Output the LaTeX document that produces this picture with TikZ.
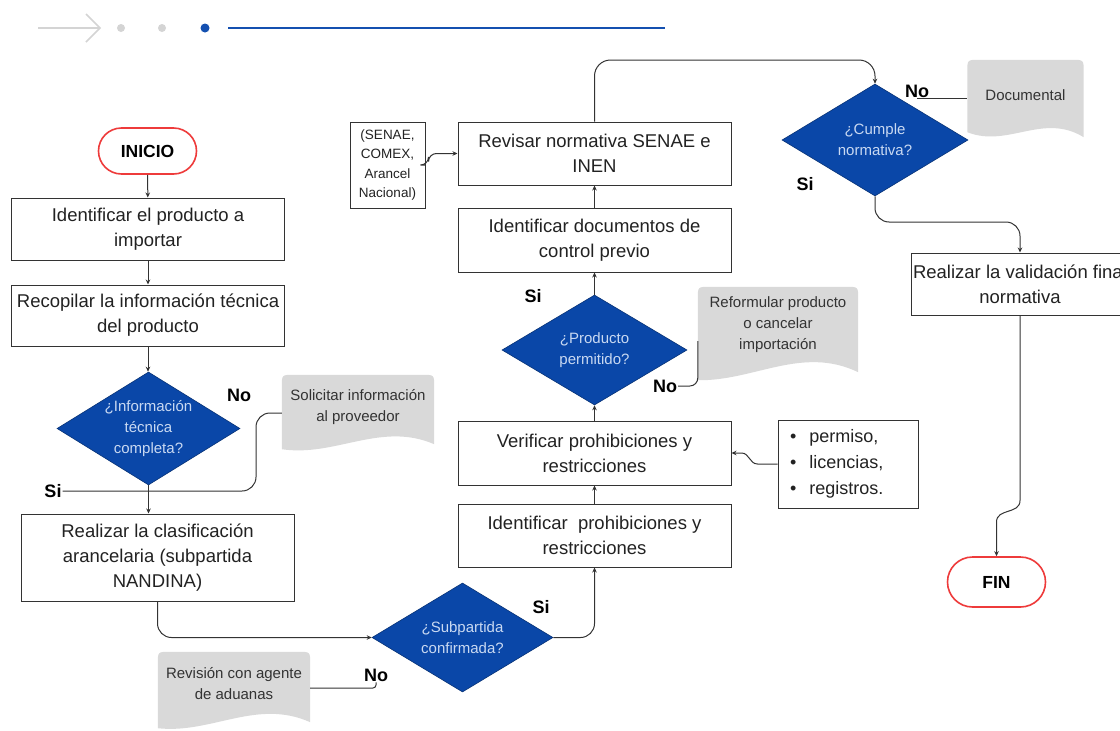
\documentclass[tikz,border=0pt]{standalone}
\usepackage{fontspec}
\setmainfont{Liberation Sans}
\usetikzlibrary{shapes.geometric,arrows.meta,calc,backgrounds}
\definecolor{dblue}{HTML}{0A47A8}
\definecolor{dtxt}{HTML}{C9D9F2}
\definecolor{redb}{HTML}{EE3B3B}
\definecolor{docg}{HTML}{D9D9D9}
\definecolor{lin}{HTML}{333333}
\definecolor{txt}{HTML}{222222}
\definecolor{hgray}{HTML}{D4D4D4}
\definecolor{hblue}{HTML}{1450B0}
\newcommand\docshp[3]{%
  \fill[docg] ($(#1.south west)+(0,#2)$) -- ($(#1.north west)+(0,12)$)
    .. controls (#1.north west) .. ($(#1.north west)+(12,0)$)
    -- ($(#1.north east)+(-12,0)$)
    .. controls (#1.north east) .. ($(#1.north east)+(0,12)$)
    -- ($(#1.south east)+(0,#3)$)
    .. controls ($(#1.south east)!0.35!(#1.south west)+(0,-18)$) and ($(#1.south west)!0.35!(#1.south east)+(0,18)$) .. ($(#1.south west)+(0,#2)$) -- cycle;}
\tikzset{
  box/.style={draw=lin, line width=1pt, fill=white, minimum width=273pt, minimum height=63pt, align=center, inner sep=0pt, text=txt, font=\fontsize{18.5}{25}\selectfont},
  dia/.style={diamond, aspect=1.6, fill=dblue, draw=dblue!70!black, line width=0.6pt, text=dtxt, align=center, inner sep=0pt, font=\fontsize{15}{21}\selectfont},
  term/.style={draw=redb, line width=1.6pt, rounded corners=23pt, minimum width=98pt, minimum height=46pt, fill=white, font=\bfseries\fontsize{17.5}{20}\selectfont},
  side/.style={draw=lin, line width=1pt, minimum width=75pt, minimum height=86pt, align=center, inner sep=0pt, text=txt, font=\fontsize{13.5}{19.5}\selectfont},
  doc/.style={align=center, inner sep=0pt, text=lin, font=\fontsize{15}{21}\selectfont},
  lst/.style={draw=lin, line width=1pt, minimum width=140pt, minimum height=88pt, text width=116pt, inner xsep=12pt, align=left, text=txt, font=\fontsize{18}{26}\selectfont},
  lbl/.style={font=\bfseries\fontsize{18}{20}\selectfont, text=black, inner sep=1pt},
  arr/.style={draw=lin, line width=1pt, -{Stealth[length=5pt,width=4.5pt]}},
  ln/.style={draw=lin, line width=1pt}
}
\begin{document}
\begin{tikzpicture}[x=1pt,y=-1pt]
\useasboundingbox (0,0) rectangle (1120,731);
% header
\draw[hgray, line width=1.5pt] (38,28) -- (100,28);
\draw[hgray, line width=1.5pt] (86,14) -- (100,28) -- (86,42);
\fill[hgray] (121,28) circle (4pt);
\fill[hgray] (162,28) circle (4pt);
\fill[hblue] (205,28) circle (4.5pt);
\draw[hblue, line width=2.5pt] (228,28) -- (665,28);
% nodes
\node[term] (ini) at (147.5,151) {INICIO};
\node[box, minimum height=62pt] (b1) at (148,229) {Identificar el producto a\\importar};
\node[box, minimum height=61pt] (b2) at (148,315.5) {Recopilar la información técnica\\del producto};
\node[dia, minimum width=183pt, minimum height=113pt] (d1) at (148.5,428.5) {¿Información\\técnica\\completa?};
\node[box, minimum height=87pt] (b3) at (157.5,557.5) {Realizar la clasificación\\arancelaria (subpartida\\NANDINA)};
\node[dia, minimum width=181pt, minimum height=109pt] (d2) at (462.5,637.5) {¿Subpartida\\confirmada?};
\node[box] (b4) at (594.5,535.5) {Identificar\ \ prohibiciones y\\restricciones};
\node[box, minimum height=64pt] (b5) at (594.5,453) {Verificar prohibiciones y\\restricciones};
\node[dia, minimum width=185pt, minimum height=110pt] (d3) at (594.5,350) {¿Producto\\permitido?};
\node[box, minimum height=64pt] (b6) at (594.5,240) {Identificar documentos de\\control previo};
\node[box] (b7) at (594.5,153.5) {Revisar normativa SENAE e\\INEN};
\node[side] (sd) at (387.5,165) {(SENAE,\\COMEX,\\Arancel\\Nacional)};
\node[dia, minimum width=186pt, minimum height=112pt] (d4) at (875,140) {¿Cumple\\normativa?};
\node[box, minimum width=218pt, minimum height=62pt] (b8) at (1020,284) {Realizar la validación final\\normativa};
\node[term, minimum height=50pt, rounded corners=25pt] (fin) at (996.5,582) {FIN};
\node[lst] (ls) at (848,464) {\textbullet\hspace{13pt}permiso,\\\textbullet\hspace{13pt}licencias,\\\textbullet\hspace{13pt}registros.};
% documents
\node[doc, minimum width=152pt, minimum height=64pt] (sol) at (358,407) {Solicitar información\\al proveedor};
\node[doc, minimum width=160pt, minimum height=76pt] (ref) at (778,325) {Reformular producto\\o cancelar\\importación};
\node[doc, minimum width=152pt, minimum height=64pt] (rev) at (234,684) {Revisión con agente\\de aduanas};
\node[doc, minimum width=116pt, minimum height=70pt] (dcm) at (1025.5,95) {Documental};
\begin{pgfonlayer}{background}
\fill[white] (0,0) rectangle (1120,731);
\docshp{sol}{10}{5}
\docshp{ref}{17}{9}
\docshp{rev}{12}{6}
\docshp{dcm}{2}{7}
\end{pgfonlayer}
% labels
\node[lbl] (no1) at (239,395) {No};
\node[lbl] (si1) at (53,491) {Si};
\node[lbl] (si2) at (541,607) {Si};
\node[lbl] (no2) at (376,675) {No};
\node[lbl] (si3) at (533,296) {Si};
\node[lbl] (no3) at (665,386) {No};
\node[lbl] (no4) at (917,91) {No};
\node[lbl] (si4) at (805,184) {Si};
% connectors
\draw[arr] (ini) -- (b1);
\draw[arr] (b1) -- (b2);
\draw[arr] (b2.south) -- (b2.south |- d1.north);
\draw[arr] (d1.south) -- (d1.south |- b3.north);
\coordinate (k1) at (256,491);
\draw[ln, rounded corners=14pt] ([yshift=-6pt]sol.west) -| (k1) -- (si1.east);
\draw[arr, rounded corners=14pt] (b3.south) |- (d2.west);
\draw[arr, rounded corners=14pt] (d2.east) -| (b4.south);
\draw[ln, rounded corners=3pt] ([yshift=-4pt]rev.east) -| (no2.south);
\draw[arr] (b4) -- (b5);
\draw[arr] (ls.west) -- ++(-20,0) .. controls +(-8,0) and +(8,0) .. ([xshift=10pt]b5.east) -- (b5.east);
\draw[arr] (b5) -- (d3);
\draw[ln, rounded corners=8pt] (no3.east) -| ([yshift=-16pt]ref.west);
\draw[arr] (d3) -- (b6);
\draw[arr] (b6) -- (b7);
\draw[arr, rounded corners=8pt] (sd.east) -- ++(3,0) |- (b7.west);
\coordinate (k3) at (735,60);
\draw[arr, rounded corners=16pt] (b7.north) |- (k3) -| (d4.north);
\draw[ln] (no4.south) -- (no4.south -| dcm.west);
\coordinate (k4) at (950,222);
\draw[arr, rounded corners=14pt] (d4.south) |- (k4) -| (b8.north);
\coordinate (k5) at (996.5,522);
\draw[arr] (b8.south) -- ++(0,185) .. controls +(0,14) and +(0,-14) .. (k5) -- (fin.north);
\end{tikzpicture}
\end{document}
